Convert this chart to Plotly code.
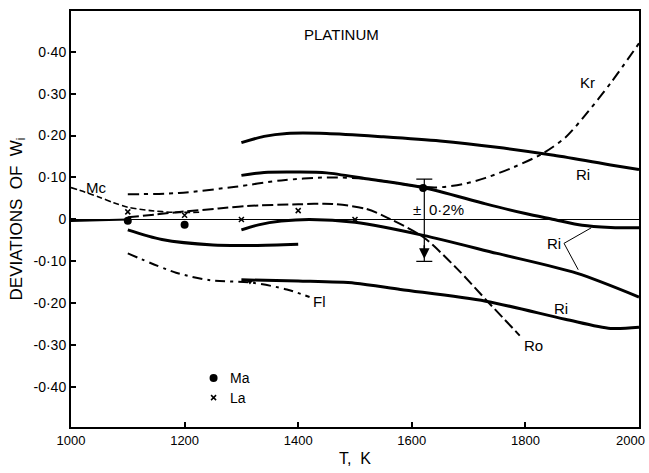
import plotly.graph_objects as go

# ---------------- data ----------------
ri1_T = [1300, 1340, 1380, 1450, 1550, 1650, 1750, 1850, 1950, 2000]
ri1_v = [0.183, 0.198, 0.205, 0.205, 0.197, 0.187, 0.172, 0.153, 0.130, 0.119]

ri2_T = [1300, 1340, 1400, 1450, 1520, 1620, 1730, 1800, 1850, 1900, 1950, 2000]
ri2_v = [0.105, 0.112, 0.113, 0.111, 0.097, 0.076, 0.037, 0.014, 0.0, -0.014, -0.019, -0.020]

ri3_T = [1300, 1330, 1370, 1420, 1500, 1620, 1750, 1890, 2000]
ri3_v = [-0.025, -0.013, -0.004, 0.0, -0.007, -0.038, -0.081, -0.128, -0.185]

ri4_T = [1300, 1400, 1500, 1580, 1730, 1870, 1950, 2000]
ri4_v = [-0.144, -0.147, -0.152, -0.167, -0.195, -0.238, -0.260, -0.257]

short_T = [1100, 1160, 1250, 1320, 1400]
short_v = [-0.025, -0.048, -0.061, -0.062, -0.059]

fl_T = [1100, 1185, 1245, 1320, 1380, 1420]
fl_v = [-0.081, -0.127, -0.145, -0.151, -0.167, -0.185]

kr_T = [1100, 1190, 1290, 1370, 1450, 1520, 1580, 1640, 1690, 1730, 1780, 1830, 1870, 1905, 1950, 2000]
kr_v = [0.060, 0.063, 0.078, 0.093, 0.100, 0.097, 0.085, 0.076, 0.084, 0.099, 0.125, 0.157, 0.195, 0.248, 0.325, 0.420]

mc_T = [1000, 1025, 1050, 1075, 1100, 1140, 1180, 1230]
mc_v = [0.076, 0.065, 0.053, 0.040, 0.029, 0.021, 0.017, 0.017]

ro_T = [1100, 1150, 1200, 1260, 1310, 1400, 1460, 1520, 1560, 1620, 1680, 1735, 1790]
ro_v = [0.005, 0.012, 0.019, 0.026, 0.032, 0.036, 0.037, 0.025, 0.002, -0.042, -0.118, -0.198, -0.277]

ma_line_T = [1000, 1050, 1100]
ma_line_v = [-0.004, -0.002, 0.0]

ma_T = [1100, 1200, 1620]
ma_v = [-0.003, -0.013, 0.075]

la_T = [1100, 1200, 1300, 1400, 1500]
la_v = [0.018, 0.010, 0.0, 0.021, 0.0]

fl_mark_T = [1315]
fl_mark_v = [-0.147]

err_T = [1622]
err_center = [-0.002]
err_half = [0.098]

leader_T = [1868, 1916, None, 1868, 1893]
leader_v = [-0.057, -0.020, None, -0.057, -0.120]

y_ticks = [-0.4, -0.3, -0.2, -0.1, 0.0, 0.1, 0.2, 0.3, 0.4]
y_ticktext = ["-0·40", "-0·30", "-0·20", "-0·10", "0", "0·10", "0·20", "0·30", "0·40"]
x_ticks = [1000, 1200, 1400, 1600, 1800, 2000]
x_ticktext = ["1000", "1200", "1400", "1600", "1800", "2000"]

labels = [
    ("PLATINUM", 1477, 0.44, 15),
    ("Kr", 1910, 0.327, 15),
    ("Ri", 1902, 0.107, 15),
    ("Ri", 1851, -0.058, 15),
    ("Ri", 1862, -0.213, 15),
    ("Ro", 1815, -0.300, 15),
    ("Fl", 1437, -0.195, 15),
    ("Mc", 1044, 0.076, 15),
    ("±", 1609, 0.024, 15),
    ("0·2%", 1661, 0.024, 15),
]
legend_T = 1251
legend_items = [("Ma", -0.378), ("La", -0.425)]

# ---------------- figure ----------------
BLK = "black"
fig = go.Figure()

def line(T, v, width, dash="solid"):
    fig.add_trace(go.Scatter(x=T, y=v, mode="lines",
                             line=dict(color=BLK, width=width, dash=dash, shape="spline", smoothing=0.8),
                             showlegend=False, hoverinfo="skip"))

line(ri1_T, ri1_v, 3)
line(ri2_T, ri2_v, 3)
line(ri3_T, ri3_v, 3)
line(ri4_T, ri4_v, 3)
line(short_T, short_v, 3)
line(ma_line_T, ma_line_v, 2)
line(fl_T, fl_v, 2, "10px,5px,3px,5px")
line(kr_T, kr_v, 2, "11px,5px,4px,5px")
line(mc_T, mc_v, 1.6, "6px,3px")
line(ro_T, ro_v, 2, "11px,4px")

fig.add_trace(go.Scatter(x=leader_T, y=leader_v, mode="lines", line=dict(color=BLK, width=1),
                         showlegend=False, hoverinfo="skip"))

# error bar (±0.2 %)
fig.add_trace(go.Scatter(x=err_T, y=err_center, mode="markers", marker=dict(size=1, color="rgba(0,0,0,0)"),
                         error_y=dict(type="data", array=err_half, color=BLK, thickness=1.2, width=8),
                         showlegend=False, hoverinfo="skip"))
fig.add_annotation(x=err_T[0], y=err_center[0] - 0.092, ax=err_T[0], ay=err_center[0] - 0.055,
                   xref="x", yref="y", axref="x", ayref="y", showarrow=True,
                   arrowhead=2, arrowsize=1.4, arrowwidth=1.5, arrowcolor=BLK, text=" ",
                   font=dict(size=1))

# points
fig.add_trace(go.Scatter(x=ma_T, y=ma_v, mode="markers", marker=dict(symbol="circle", size=8, color=BLK),
                         showlegend=False, hoverinfo="skip"))
fig.add_trace(go.Scatter(x=la_T, y=la_v, mode="markers",
                         marker=dict(symbol="x-thin", size=5, color=BLK, line=dict(width=1.5, color=BLK)),
                         showlegend=False, hoverinfo="skip"))
fig.add_trace(go.Scatter(x=fl_mark_T, y=fl_mark_v, mode="markers",
                         marker=dict(symbol="triangle-down", size=7, color=BLK),
                         showlegend=False, hoverinfo="skip"))

# legend (drawn inside the plot, as in the reference)
fig.add_trace(go.Scatter(x=[legend_T], y=[legend_items[0][1]], mode="markers",
                         marker=dict(symbol="circle", size=8, color=BLK), showlegend=False, hoverinfo="skip"))
fig.add_trace(go.Scatter(x=[legend_T], y=[legend_items[1][1]], mode="markers",
                         marker=dict(symbol="x-thin", size=5, color=BLK, line=dict(width=1.5, color=BLK)),
                         showlegend=False, hoverinfo="skip"))
for name, yv in legend_items:
    fig.add_annotation(x=legend_T, y=yv, text=name, showarrow=False, xanchor="left", xshift=14,
                       font=dict(size=14, color=BLK))

for txt, tx, ty, sz in labels:
    fig.add_annotation(x=tx, y=ty, text=txt, showarrow=False, font=dict(size=sz, color=BLK))

# last x tick label sits flush with the right edge in the reference
fig.add_annotation(x=1, y=0, xref="paper", yref="paper", text=x_ticktext[-1], showarrow=False,
                   xanchor="right", yanchor="top", xshift=7, yshift=-5, borderpad=0,
                   font=dict(size=13, color=BLK))
x_ticktext_axis = x_ticktext[:-1] + [""]

fig.update_layout(
    width=649, height=473,
    margin=dict(l=71, r=8, t=11, b=41),
    paper_bgcolor="white", plot_bgcolor="white",
    font=dict(family="Liberation Sans, Arial, sans-serif", color=BLK),
    showlegend=False,
)
fig.update_xaxes(range=[1000, 2000], tickvals=x_ticks, ticktext=x_ticktext_axis, ticks="inside", ticklen=5,
                 tickcolor=BLK, tickwidth=1.5, showline=True, linecolor=BLK, linewidth=2, mirror=True,
                 showgrid=False, zeroline=False, tickfont=dict(size=13),
                 title=dict(text="T,  K", font=dict(size=16), standoff=6))
fig.update_yaxes(range=[-0.495, 0.497], tickvals=y_ticks, ticktext=y_ticktext, ticks="inside", ticklen=5,
                 tickcolor=BLK, tickwidth=1.5, showline=True, linecolor=BLK, linewidth=2, mirror=True,
                 showgrid=False, zeroline=True, zerolinecolor=BLK, zerolinewidth=1,
                 tickfont=dict(size=14),
                 title=dict(text="DEVIATIONS  OF  W<sub>i</sub>", font=dict(size=17), standoff=7))

fig.write_html("out.html", config={"displayModeBar": False},
               post_script="document.body.style.margin='0';document.body.style.overflow='hidden';")
